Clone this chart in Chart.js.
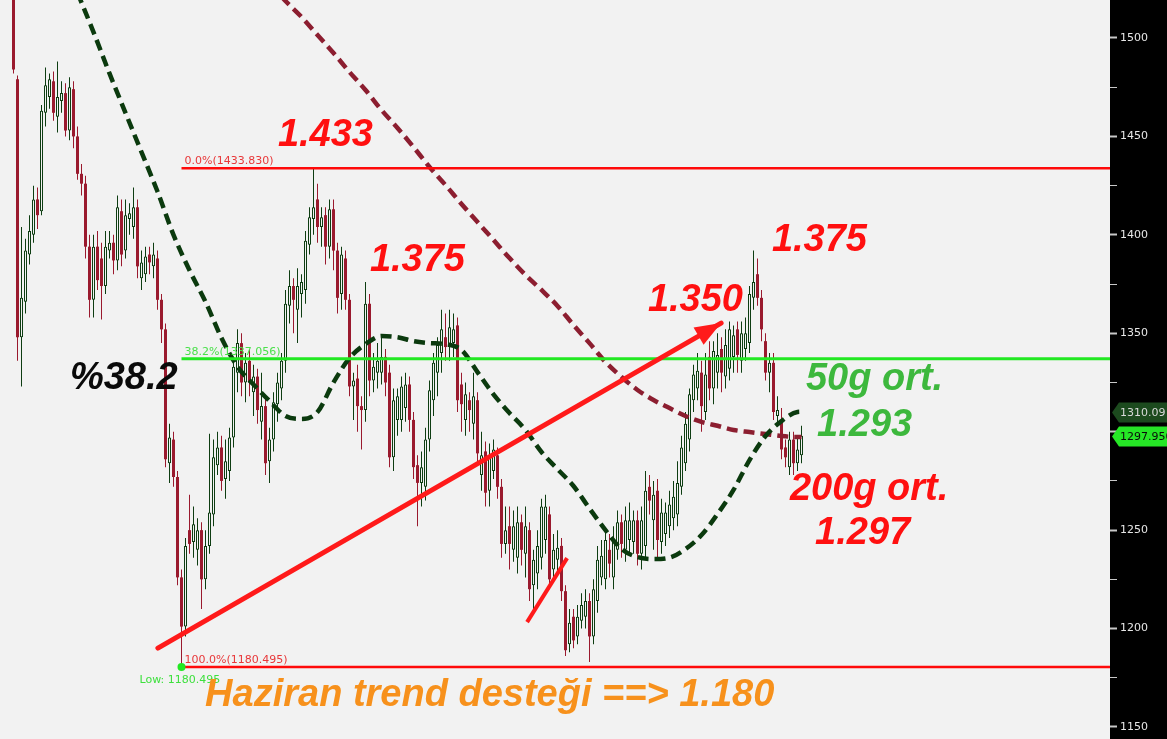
<!DOCTYPE html>
<html><head><meta charset="utf-8">
<script src="https://cdn.jsdelivr.net/npm/chart.js@4/dist/chart.umd.min.js"></script>
<style>html,body{margin:0;padding:0;background:#f2f2f2;overflow:hidden}canvas{display:block}</style>
</head><body>
<canvas id="c" width="1167" height="739"></canvas>
<script>
// ---- daily candles (index 0 = first visible day) ----
const opens=[1525,1479,1348,1366,1390,1400,1418,1412,1462,1470,
1478,1460,1468,1472,1453,1474,1450,1431,1426,1394,
1367,1394,1388,1374,1392,1396,1387,1412,1392,1408,
1404,1414,1378,1380,1390,1384,1388,1367,1352,1284,
1296,1277,1226,1201,1250,1244,1240,1250,1225,1242,
1258,1283,1292,1276,1280,1297,1330,1345,1325,1336,
1320,1328,1305,1313,1285,1296,1314,1322,1336,1364,
1374,1362,1370,1372,1395,1408,1418,1404,1410,1394,
1413,1392,1370,1388,1367,1323,1327,1313,1311,1365,
1326,1330,1330,1338,1330,1287,1306,1306,1312,1324,
1306,1283,1274,1272,1296,1316,1330,1340,1348,1343,
1345,1354,1324,1306,1316,1304,1316,1278,1290,1270,
1280,1288,1272,1243,1252,1240,1236,1254,1238,1250,
1222,1228,1236,1245,1258,1230,1235,1242,1219,1192,
1206,1196,1204,1206,1214,1196,1214,1226,1225,1240,
1226,1240,1254,1240,1245,1244,1255,1238,1242,1272,
1255,1270,1244,1248,1252,1256,1258,1272,1284,1296,
1316,1322,1330,1310,1338,1322,1330,1342,1328,1332,
1338,1352,1336,1342,1345,1368,1380,1368,1346,1330,
1335,1308,1306,1292,1282,1296,1284,1288];
const highs=[1528,1481,1404,1398,1410,1425,1424,1466,1485,1482,
1483,1488,1478,1477,1480,1478,1455,1436,1430,1400,
1400,1402,1396,1402,1402,1400,1420,1418,1418,1416,
1424,1418,1392,1394,1394,1396,1392,1370,1355,1304,
1300,1280,1230,1246,1268,1262,1256,1254,1250,1299,
1296,1300,1298,1296,1302,1338,1352,1350,1340,1342,
1334,1332,1330,1318,1302,1320,1330,1340,1372,1382,
1378,1383,1380,1402,1414,1433.8,1426,1414,1414,1418,
1418,1396,1394,1392,1370,1330,1334,1318,1376,1370,
1340,1345,1348,1342,1334,1322,1322,1328,1330,1328,
1310,1288,1290,1302,1326,1340,1348,1362,1360,1362,
1360,1358,1330,1325,1320,1330,1320,1300,1295,1294,
1296,1292,1276,1262,1262,1260,1262,1258,1262,1254,
1240,1250,1266,1268,1262,1248,1250,1246,1222,1210,
1210,1212,1218,1220,1218,1225,1242,1245,1250,1248,
1252,1260,1258,1262,1264,1260,1260,1262,1280,1278,
1275,1276,1266,1264,1270,1275,1285,1298,1310,1322,
1334,1340,1336,1340,1346,1346,1350,1348,1352,1356,
1354,1356,1356,1358,1374,1392,1388,1372,1350,1340,
1340,1318,1312,1296,1300,1300,1298,1303];
const lows=[1482,1336,1323,1360,1385,1396,1403,1410,1455,1464,
1458,1452,1462,1450,1448,1444,1428,1420,1388,1358,
1358,1372,1357,1370,1388,1380,1382,1384,1388,1400,
1398,1378,1372,1376,1380,1378,1362,1345,1282,1274,
1272,1222,1180.5,1196,1238,1236,1232,1210,1220,1238,
1252,1278,1270,1266,1275,1292,1320,1318,1315,1318,
1308,1304,1296,1278,1274,1290,1305,1316,1330,1355,
1350,1345,1358,1365,1390,1400,1396,1394,1385,1388,
1382,1360,1362,1362,1318,1306,1300,1291,1305,1318,
1320,1322,1324,1318,1282,1280,1298,1300,1305,1300,
1276,1252,1262,1265,1290,1308,1318,1330,1336,1336,
1338,1310,1300,1298,1300,1296,1284,1270,1262,1262,
1276,1266,1236,1238,1230,1234,1228,1232,1226,1214,
1208,1220,1230,1238,1220,1224,1228,1214,1186,1188,
1190,1192,1200,1200,1183,1192,1208,1222,1220,1226,
1220,1235,1236,1234,1238,1238,1232,1230,1236,1258,
1240,1236,1238,1242,1246,1250,1252,1268,1280,1290,
1310,1316,1300,1306,1316,1314,1322,1320,1322,1326,
1330,1330,1330,1336,1340,1362,1364,1346,1326,1320,
1306,1304,1286,1282,1278,1278,1280,1284];
const closes=[1484,1348,1368,1392,1402,1418,1410,1463,1476,1479,
1462,1470,1472,1453,1475,1450,1431,1426,1394,1367,
1394,1377,1374,1394,1396,1387,1414,1390,1410,1411,
1414,1384,1386,1389,1386,1390,1367,1352,1286,1297,
1277,1226,1201,1242,1243,1253,1250,1225,1242,1259,
1287,1292,1275,1285,1297,1333,1345,1325,1335,1325,
1328,1311,1313,1284,1296,1315,1325,1336,1365,1374,
1367,1374,1376,1397,1409,1414,1404,1409,1394,1413,
1392,1368,1390,1367,1323,1326,1313,1311,1365,1326,
1333,1336,1338,1325,1287,1316,1318,1323,1324,1306,
1282,1274,1282,1296,1321,1335,1344,1352,1343,1353,
1352,1316,1314,1319,1311,1318,1289,1288,1269,1288,
1291,1272,1243,1250,1243,1252,1254,1240,1252,1220,
1235,1242,1262,1262,1225,1240,1241,1219,1189,1203,
1194,1206,1212,1214,1196,1220,1235,1237,1245,1233,
1245,1254,1243,1255,1255,1255,1238,1255,1270,1265,
1268,1245,1259,1259,1263,1267,1274,1292,1304,1319,
1329,1331,1313,1329,1322,1341,1339,1330,1344,1352,
1349,1339,1350,1350,1370,1376,1368,1352,1330,1335,
1310,1311,1291,1287,1296,1284,1291,1297.95];

// ---- moving averages (sampled at day index) ----
const ma50Idx=[16,20,24,28,32,36,40,44,48,52,56,60,64,68,72,76,80,84,88,92,96,100,104,108,112,116,120,124,128,132,136,140,144,148,152,156,160,164,168,172,176,180,184,188,192,196,197];
const ma50=[1523,1503,1482,1462,1442,1422,1400,1382,1366,1347.6,1333,1324,1315.6,1308,1306.5,1310,1325,1337.4,1344.5,1348.6,1348,1346,1345,1344.5,1341.5,1330.3,1319,1309.5,1300.9,1289.7,1281,1272.4,1261,1250,1240.4,1236.3,1235.3,1236,1240.4,1247.5,1258.2,1270.4,1285.6,1297.8,1305.4,1310,1310.1];
const ma200Idx=[67,68,72,76,80,84,88,92,96,100,104,108,112,116,120,124,128,132,136,140,144,148,152,156,160,164,168,172,176,180,184,188,192,196,197];
const ma200=[1521,1518.8,1510.7,1501.5,1492.4,1482.7,1473.6,1463.4,1454.3,1444.6,1434.5,1425.3,1415.7,1406.5,1397.4,1388.2,1379.6,1372,1363.9,1354.2,1345,1335.4,1327.8,1321.2,1316.1,1312,1308,1305,1303,1300.9,1299.8,1298.8,1297.8,1297.3,1297.3];

// ---- price axis ticks ----
const yTickValues=[1150,1175,1200,1225,1250,1275,1300,1325,1350,1375,1400,1425,1450,1475,1500];
const yTickLabels=['1150','','1200','','1250','','1300','','1350','','1400','','1450','','1500'];

// ---- Fibonacci levels ----
const fibLevels=[1433.830,1337.056,1180.495];
const fibLabels=['0.0%(1433.830)','38.2%(1337.056)','100.0%(1180.495)'];
const fibStartIdx=42;
const lowIdx=42, lowPrice=1180.495, lowLabel='Low: 1180.495';

// ---- drawn trend lines ----
const trendX=[36.1,176.9], trendY=[1190.1,1355.2];
const miniX=[128.4,138.4], miniY=[1203.3,1235.8];

// ---- annotations ----
const noteTexts=['1.433','1.375','1.375','1.350','%38.2','50g ort.','1.293','200g ort.','1.297','Haziran trend desteği ==> 1.180'];
const noteX=[66.1,89.1,189.6,158.6,14.1,198.1,200.9,194.1,200.4,47.9];
const noteY=[1445.1,1381.6,1391.8,1361.3,1321.7,1321.2,1297.8,1265.3,1243.0,1160.7];
const noteColors=['#ff1010','#ff1010','#ff1010','#ff1010','#0a0a0a','#3db83d','#3db83d','#ff1010','#ff1010','#f7911c'];

// ---- right axis price tags ----
const tagValues=[1310.09,1297.95];
const tagTexts=['1310.09','1297.950'];
const tagBg=['#1c4a1e','#26e626'];
const tagFg=['#d8d8d8','#0a0a0a'];

const XMIN=-3.375, XMAX=274.125, YMIN=1143.9, YMAX=1519.3;
const UPC='#0e3d12', DNC='#9a1a2e';

const idx=closes.map((_,i)=>i);
const isUp=idx.map(i=>closes[i]>=opens[i]);

const deco={id:'deco',
  beforeDraw(chart){
    const {ctx,chartArea:a,width,height}=chart;
    ctx.save();
    ctx.fillStyle='#f2f2f2';ctx.fillRect(0,0,width,height);
    ctx.fillStyle='#000';ctx.fillRect(a.right,0,width-a.right,height);
    ctx.restore();
  },
  afterDatasetsDraw(chart){
    const {ctx}=chart, xs=chart.scales.x, ys=chart.scales.y;
    ctx.save();
    // arrow head
    const x0=xs.getPixelForValue(trendX[0]), y0=ys.getPixelForValue(trendY[0]);
    const x1=xs.getPixelForValue(trendX[1]), y1=ys.getPixelForValue(trendY[1]);
    const ang=Math.atan2(y1-y0,x1-x0), L=26, W=10;
    ctx.fillStyle='#ff1a1a';
    ctx.beginPath();
    ctx.moveTo(x1,y1);
    ctx.lineTo(x1-L*Math.cos(ang)+W*Math.sin(ang), y1-L*Math.sin(ang)-W*Math.cos(ang));
    ctx.lineTo(x1-L*Math.cos(ang)-W*Math.sin(ang), y1-L*Math.sin(ang)+W*Math.cos(ang));
    ctx.closePath();ctx.fill();
    // fib labels
    ctx.font='11px "DejaVu Sans"';
    ctx.textBaseline='alphabetic';
    const fx=xs.getPixelForValue(fibStartIdx);
    fibLevels.forEach((lv,k)=>{
      ctx.fillStyle= k===1 ? '#4be04b' : '#e8383a';
      ctx.fillText(fibLabels[k], fx+3, ys.getPixelForValue(lv)-4);
    });
    // low marker
    const lx=xs.getPixelForValue(lowIdx), ly=ys.getPixelForValue(lowPrice);
    ctx.fillStyle='#22e822';
    ctx.beginPath();ctx.arc(lx,ly,4,0,Math.PI*2);ctx.fill();
    ctx.fillStyle='#3ee03e';
    ctx.fillText(lowLabel, lx-42, ly+16);
    // big notes
    ctx.font='italic bold 38px "Liberation Sans", Arial, sans-serif';
    noteTexts.forEach((t,k)=>{
      ctx.fillStyle=noteColors[k];
      ctx.fillText(t, xs.getPixelForValue(noteX[k]), ys.getPixelForValue(noteY[k]));
    });
    ctx.restore();
  },
  afterDraw(chart){
    const {ctx,chartArea:a,width}=chart, ys=chart.scales.y;
    ctx.save();
    ctx.font='11px "DejaVu Sans"';
    ctx.textBaseline='middle';
    tagValues.forEach((v,k)=>{
      const yc=Math.round(ys.getPixelForValue(v))+0.5;
      ctx.fillStyle=tagBg[k];
      ctx.beginPath();
      ctx.moveTo(a.right+2,yc);
      ctx.lineTo(a.right+9,yc-10);
      ctx.lineTo(width,yc-10);
      ctx.lineTo(width,yc+10);
      ctx.lineTo(a.right+9,yc+10);
      ctx.closePath();ctx.fill();
      ctx.fillStyle=tagFg[k];
      ctx.fillText(tagTexts[k], a.right+10, yc+1);
    });
    ctx.restore();
  }
};

const lineDs=(label,xsArr,ysArr,color,w,extra)=>Object.assign({
  type:'line',label,data:xsArr.map((x,k)=>({x,y:ysArr[k]})),
  borderColor:color,borderWidth:w,pointRadius:0,fill:false,tension:0
},extra||{});

new Chart(document.getElementById('c'),{
  type:'bar',
  data:{datasets:[
    lineDs('trend',trendX,trendY,'#ff1a1a',5,{order:1,borderCapStyle:'round'}),
    lineDs('mini',miniX,miniY,'#ff1a1a',4,{order:1}),
    lineDs('fib0',[fibStartIdx,XMAX],[fibLevels[0],fibLevels[0]],'#ff0a0a',2.5,{order:2}),
    lineDs('fib382',[fibStartIdx,XMAX],[fibLevels[1],fibLevels[1]],'#22e822',3,{order:2}),
    lineDs('fib100',[fibStartIdx,XMAX],[fibLevels[2],fibLevels[2]],'#ff0a0a',2.5,{order:2}),
    lineDs('50g ort.',ma50Idx,ma50,'#0b3a0e',4.5,{order:3,borderDash:[11,6],cubicInterpolationMode:'monotone'}),
    lineDs('200g ort.',ma200Idx,ma200,'#8c1e30',4.5,{order:3,borderDash:[11,6],cubicInterpolationMode:'monotone'}),
    {type:'bar',label:'body',order:4,grouped:false,barThickness:3,inflateAmount:0,borderSkipped:false,
      data:idx.map(i=>({x:i,y:[opens[i],closes[i]]})),
      backgroundColor:c=>isUp[c.dataIndex]?'#f2f2f2':DNC,
      borderColor:c=>isUp[c.dataIndex]?UPC:DNC,
      borderWidth:c=>isUp[c.dataIndex]?1:0},
    {type:'bar',label:'wick',order:5,grouped:false,barThickness:1,inflateAmount:0,borderWidth:0,
      data:idx.map(i=>({x:i,y:[lows[i],highs[i]]})),
      backgroundColor:c=>isUp[c.dataIndex]?UPC:DNC}
  ]},
  options:{
    responsive:false,animation:false,events:[],
    layout:{padding:0},
    plugins:{legend:{display:false},tooltip:{enabled:false},title:{display:false}},
    scales:{
      x:{type:'linear',min:XMIN,max:XMAX,display:false,offset:false,grid:{display:false}},
      y:{type:'linear',position:'right',min:YMIN,max:YMAX,
        afterBuildTicks(s){s.ticks=yTickValues.map(v=>({value:v}));},
        ticks:{autoSkip:false,color:'#e6e6e6',padding:3,
          font:{family:'DejaVu Sans',size:11},
          callback:(v,i)=>yTickLabels[i]},
        grid:{drawOnChartArea:false,drawTicks:true,tickLength:7,
          tickColor:'#c8c8c8',tickWidth:c=>(c.index%2===0?2:1)},
        border:{display:false},
        afterFit(s){s.width=57;s.paddingTop=0;s.paddingBottom=0;}
      }
    }
  },
  plugins:[deco]
});
</script>
</body></html>
